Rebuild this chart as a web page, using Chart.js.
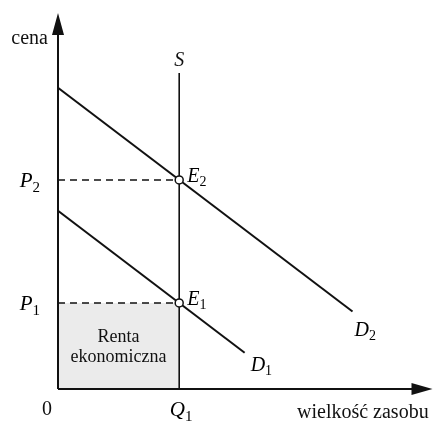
<!DOCTYPE html>
<html>
<head>
<meta charset="utf-8">
<script src="https://cdn.jsdelivr.net/npm/chart.js@4"></script>
<style>
  html, body { margin: 0; padding: 0; background: #fff; }
  canvas { display: block; }
</style>
</head>
<body>
<canvas id="rentChart" width="438" height="425"></canvas>
<script>
// demand curves (quantity, price)
const d1Q = [0, 15.4];
const d1P = [14.5, 2.95];
const d2Q = [0, 24.3];
const d2P = [24.5, 6.3];

// perfectly inelastic supply at Q1
const supplyQ = [10, 10];
const supplyP = [0, 25.7];

// equilibrium points E1, E2
const eqQ = [10, 10];
const eqP = [7, 17];
const eqNames = ['E', 'E'];
const eqSubs = ['1', '2'];

// axis bounds
const xMax = 30.9;
const yMax = 30.5;

const toPoints = (xs, ys) => xs.map((x, i) => ({ x: x, y: ys[i] }));

const SERIF = '"Liberation Serif", "DejaVu Serif", serif';

// writes an italic letter with an upright subscript
function subLabel(ctx, main, sub, x, y, size, align) {
  ctx.save();
  ctx.textBaseline = 'alphabetic';
  ctx.font = 'italic ' + size + 'px ' + SERIF;
  const wMain = ctx.measureText(main).width;
  ctx.font = Math.round(size * 0.7) + 'px ' + SERIF;
  const wSub = ctx.measureText(sub).width;
  let left = x;
  if (align === 'center') left = x - (wMain + wSub) / 2;
  if (align === 'right') left = x - (wMain + wSub);
  ctx.textAlign = 'left';
  ctx.font = 'italic ' + size + 'px ' + SERIF;
  ctx.fillText(main, left, y);
  ctx.font = Math.round(size * 0.7) + 'px ' + SERIF;
  ctx.fillText(sub, left + wMain, y + size * 0.22);
  ctx.restore();
}

const axesAndText = {
  id: 'axesAndText',
  afterDatasetsDraw(chart) {
    const ctx = chart.ctx;
    const xs = chart.scales.x;
    const ys = chart.scales.y;
    const x0 = xs.getPixelForValue(0);
    const y0 = ys.getPixelForValue(0);
    const right = chart.chartArea.right;
    const top = chart.chartArea.top;

    ctx.save();
    ctx.strokeStyle = '#111';
    ctx.fillStyle = '#111';
    ctx.lineWidth = 2;

    // axes
    ctx.beginPath();
    ctx.moveTo(x0, y0);
    ctx.lineTo(x0, top + 16);
    ctx.moveTo(x0, y0);
    ctx.lineTo(right - 16, y0);
    ctx.stroke();

    // arrow heads
    ctx.beginPath();
    ctx.moveTo(x0, top - 1);
    ctx.lineTo(x0 - 6, top + 21);
    ctx.lineTo(x0 + 6, top + 21);
    ctx.closePath();
    ctx.fill();
    ctx.beginPath();
    ctx.moveTo(right, y0);
    ctx.lineTo(right - 21, y0 - 6);
    ctx.lineTo(right - 21, y0 + 6);
    ctx.closePath();
    ctx.fill();

    // axis titles
    ctx.font = '20px ' + SERIF;
    ctx.textBaseline = 'alphabetic';
    ctx.textAlign = 'right';
    ctx.fillText('cena', x0 - 10, 44);
    ctx.textAlign = 'left';
    ctx.fillText('wielkość zasobu', 297, 418);
    ctx.fillText('0', 42, 415);

    // area label
    ctx.font = '18px ' + SERIF;
    ctx.textAlign = 'center';
    const cx = (x0 + xs.getPixelForValue(eqQ[0])) / 2;
    ctx.fillText('Renta', cx, 342);
    ctx.fillText('ekonomiczna', cx, 362);

    // S label
    ctx.font = 'italic 20px ' + SERIF;
    ctx.fillText('S', xs.getPixelForValue(supplyQ[1]), 66);
    ctx.restore();

    // price / quantity marks
    subLabel(ctx, 'P', '1', x0 - 18, ys.getPixelForValue(eqP[0]) + 7, 21, 'right');
    subLabel(ctx, 'P', '2', x0 - 18, ys.getPixelForValue(eqP[1]) + 7, 21, 'right');
    subLabel(ctx, 'Q', '1', xs.getPixelForValue(eqQ[0]) + 2, 416, 21, 'center');

    // equilibrium labels
    eqQ.forEach((q, i) => {
      subLabel(ctx, eqNames[i], eqSubs[i], xs.getPixelForValue(q) + 8, ys.getPixelForValue(eqP[i]) + 2, 20, 'left');
    });

    // demand curve labels
    subLabel(ctx, 'D', '1', xs.getPixelForValue(d1Q[1]) + 6, ys.getPixelForValue(d1P[1]) + 18, 20, 'left');
    subLabel(ctx, 'D', '2', xs.getPixelForValue(d2Q[1]) + 2, ys.getPixelForValue(d2P[1]) + 24, 20, 'left');
  }
};

const chart = new Chart(document.getElementById('rentChart').getContext('2d'), {
  type: 'scatter',
  data: {
    datasets: [
      {
        // equilibrium points on top
        data: toPoints(eqQ, eqP),
        showLine: false,
        pointRadius: 4,
        pointBackgroundColor: '#fff',
        pointBorderColor: '#111',
        pointBorderWidth: 1.5,
        order: 0
      },
      {
        data: toPoints(d1Q, d1P),
        showLine: true,
        borderColor: '#111',
        borderWidth: 2,
        pointRadius: 0,
        order: 1
      },
      {
        data: toPoints(d2Q, d2P),
        showLine: true,
        borderColor: '#111',
        borderWidth: 2,
        pointRadius: 0,
        order: 2
      },
      {
        data: toPoints(supplyQ, supplyP),
        showLine: true,
        borderColor: '#111',
        borderWidth: 1.6,
        pointRadius: 0,
        order: 3
      },
      {
        // P2 guide
        data: toPoints([0, eqQ[1]], [eqP[1], eqP[1]]),
        showLine: true,
        borderColor: '#111',
        borderWidth: 1.5,
        borderDash: [7, 5],
        pointRadius: 0,
        order: 4
      },
      {
        // P1 guide with the rent area under it
        data: toPoints([0, eqQ[0]], [eqP[0], eqP[0]]),
        showLine: true,
        borderColor: '#111',
        borderWidth: 1.5,
        borderDash: [7, 5],
        pointRadius: 0,
        fill: 'origin',
        backgroundColor: 'rgba(0,0,0,0.08)',
        order: 5
      }
    ]
  },
  options: {
    responsive: false,
    animation: false,
    layout: { padding: { left: 58, top: 14, right: 0, bottom: 36 } },
    plugins: {
      legend: { display: false },
      tooltip: { enabled: false },
      filler: { propagate: false }
    },
    scales: {
      x: { type: 'linear', min: 0, max: xMax, display: false },
      y: { type: 'linear', min: 0, max: yMax, display: false }
    }
  },
  plugins: [axesAndText]
});
</script>
</body>
</html>
